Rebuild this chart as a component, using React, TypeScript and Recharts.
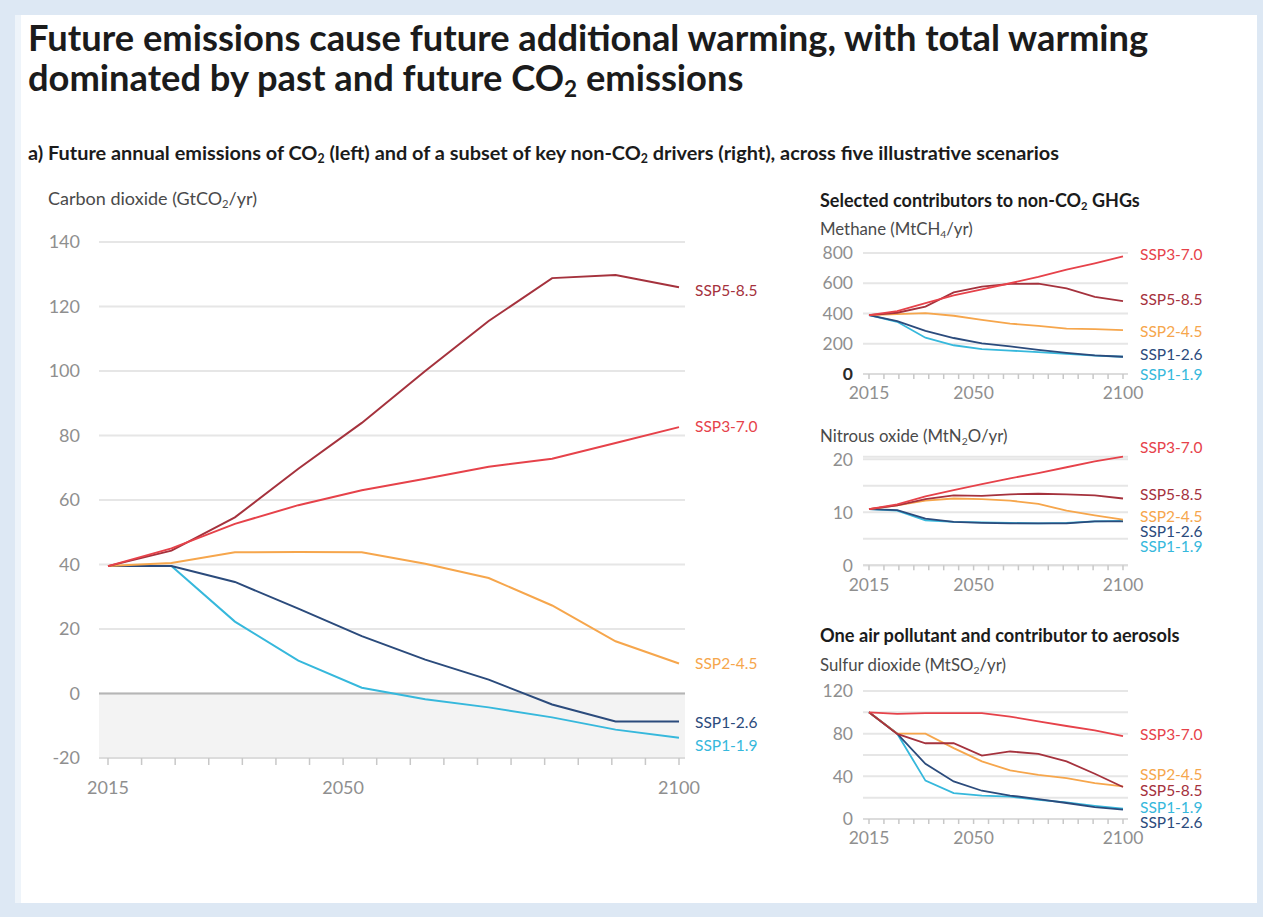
import React from 'react';
import { LineChart, Line, XAxis, YAxis, CartesianGrid, ReferenceLine, LabelList } from 'recharts';

const FONT = 'Lato, "Noto Sans", sans-serif';

// Data years (plotted as evenly spaced points, as in the source figure)
const YEARS = [2015, 2020, 2030, 2040, 2050, 2060, 2070, 2080, 2090, 2100];
const SCENARIOS = ['SSP1-1.9', 'SSP1-2.6', 'SSP2-4.5', 'SSP5-8.5', 'SSP3-7.0'];
const X_TICKS = [2015, 2020, 2025, 2030, 2035, 2040, 2045, 2050, 2055, 2060, 2065, 2070, 2075, 2080, 2085, 2090, 2095, 2100];
const X_LABELS = [2015, 2050, 2100];

// Carbon dioxide (GtCO2/yr)
const CO2_SSP119 = [39.5, 39.5, 22.3, 10.2, 1.8, -1.8, -4.3, -7.4, -11.2, -13.7];
const CO2_SSP126 = [39.5, 39.5, 34.6, 26.3, 17.8, 10.5, 4.3, -3.4, -8.7, -8.7];
const CO2_SSP245 = [39.5, 40.5, 43.8, 43.9, 43.8, 40.2, 35.8, 27.3, 16.2, 9.3];
const CO2_SSP370 = [39.5, 45.0, 52.6, 58.4, 63.0, 66.6, 70.3, 72.8, 77.7, 82.6];
const CO2_SSP585 = [39.5, 44.3, 54.6, 69.7, 83.9, 100.0, 115.5, 128.8, 129.8, 126.0];
const CO2_TICKS = [-20, 0, 20, 40, 60, 80, 100, 120, 140];

// Methane (MtCH4/yr)
const CH4_SSP119 = [389, 345, 240, 190, 165, 155, 145, 133, 122, 114];
const CH4_SSP126 = [389, 350, 285, 238, 203, 182, 160, 140, 123, 114];
const CH4_SSP245 = [389, 396, 402, 385, 358, 333, 318, 300, 297, 290];
const CH4_SSP370 = [389, 415, 468, 520, 560, 600, 642, 690, 732, 778];
const CH4_SSP585 = [389, 405, 446, 540, 578, 596, 598, 566, 510, 482];
const CH4_TICKS = [0, 200, 400, 600, 800];
const CH4_LABELS = [0, 200, 400, 600, 800];

// Nitrous oxide (MtN2O/yr)
const N2O_SSP119 = [10.6, 10.3, 8.5, 8.2, 8.1, 8.0, 7.9, 8.0, 8.3, 8.4];
const N2O_SSP126 = [10.6, 10.4, 8.8, 8.2, 8.0, 7.9, 7.9, 7.9, 8.3, 8.3];
const N2O_SSP245 = [10.6, 11.3, 12.2, 12.6, 12.5, 12.2, 11.6, 10.3, 9.4, 8.6];
const N2O_SSP370 = [10.6, 11.5, 13.0, 14.2, 15.3, 16.4, 17.4, 18.5, 19.6, 20.5];
const N2O_SSP585 = [10.6, 11.3, 12.5, 13.2, 13.1, 13.4, 13.5, 13.4, 13.2, 12.6];
const N2O_TICKS = [0, 5, 10, 15, 20];
const N2O_LABELS = [0, 10, 20];

// Sulfur dioxide (MtSO2/yr)
const SO2_SSP119 = [100, 80, 36, 24.3, 22, 21, 18, 15.5, 12.4, 9.6];
const SO2_SSP126 = [100, 80, 51.7, 35.2, 26.5, 22, 18.7, 15, 11.2, 8.7];
const SO2_SSP245 = [100, 80, 80, 66.4, 54, 45.5, 41.4, 38.3, 33.7, 30.5];
const SO2_SSP370 = [100, 98.5, 99.3, 99.3, 99.3, 96, 91.5, 87.2, 83, 77.7];
const SO2_SSP585 = [100, 79.8, 71, 71, 59.5, 63.3, 61, 54, 42.4, 30];
const SO2_TICKS = [0, 20, 40, 60, 80, 100, 120];
const SO2_LABELS = [0, 40, 80, 120];

const COLORS: Record<string, string> = {
  'SSP1-1.9': '#36b8dc',
  'SSP1-2.6': '#2b4b7c',
  'SSP2-4.5': '#f6a64c',
  'SSP3-7.0': '#e6424a',
  'SSP5-8.5': '#a5323d',
};

function buildRows(series: Record<string, number[]>) {
  return YEARS.map((yr, i) => {
    const row: Record<string, any> = { cat: String(yr), yr };
    Object.keys(series).forEach((k) => {
      row[k] = series[k][i];
    });
    return row;
  });
}

const CO2_ROWS = buildRows({ 'SSP1-1.9': CO2_SSP119, 'SSP1-2.6': CO2_SSP126, 'SSP2-4.5': CO2_SSP245, 'SSP3-7.0': CO2_SSP370, 'SSP5-8.5': CO2_SSP585 });
const CH4_ROWS = buildRows({ 'SSP1-1.9': CH4_SSP119, 'SSP1-2.6': CH4_SSP126, 'SSP2-4.5': CH4_SSP245, 'SSP3-7.0': CH4_SSP370, 'SSP5-8.5': CH4_SSP585 });
const N2O_ROWS = buildRows({ 'SSP1-1.9': N2O_SSP119, 'SSP1-2.6': N2O_SSP126, 'SSP2-4.5': N2O_SSP245, 'SSP3-7.0': N2O_SSP370, 'SSP5-8.5': N2O_SSP585 });
const SO2_ROWS = buildRows({ 'SSP1-1.9': SO2_SSP119, 'SSP1-2.6': SO2_SSP126, 'SSP2-4.5': SO2_SSP245, 'SSP3-7.0': SO2_SSP370, 'SSP5-8.5': SO2_SSP585 });

function makeEndLabel(name: string, color: string, dx: number, dy: number, fontSize: number) {
  const last = YEARS.length - 1;
  return (props: any) => {
    if (props.index !== last) return null;
    const x = props.x ?? props.viewBox?.x;
    const y = props.y ?? props.viewBox?.y;
    if (x == null || y == null) return null;
    return (
      <text x={x + dx} y={y + dy} fill={color} fontSize={fontSize} fontFamily={FONT} dominantBaseline="central">
        {name}
      </text>
    );
  };
}

function makeYTick(labels: number[], fontSize: number, darkZero = false) {
  return (props: any) => {
    const { x, y, payload } = props;
    if (!labels.includes(payload.value)) return <g />;
    const dark = darkZero && payload.value === 0;
    return (
      <text x={x} y={y} dy="0.355em" textAnchor="end" fill={dark ? '#2a2a2a' : '#8f8f8f'} fontSize={fontSize} fontWeight={dark ? 700 : 400} fontFamily={FONT}>
        {payload.value}
      </text>
    );
  };
}

const xTickFmt = (v: number) => (X_LABELS.includes(v) ? String(v) : '');

type PanelProps = {
  rows: any[];
  left: number;
  top: number;
  width: number;
  height: number;
  margin: { top: number; right: number; bottom: number; left: number };
  yDomain: [number, number];
  yTicks: number[];
  yLabels: number[];
  yWidth: number;
  yTickMargin: number;
  padL: number;
  padR: number;
  xTickSize: number;
  xTickMargin: number;
  xHeight: number;
  tickFont: number;
  labelFont: number;
  labelDx: number;
  labelDy: Record<string, number>;
  strokeWidth: number;
  bandFill?: string[];
  zeroLine?: boolean;
  darkZero?: boolean;
};

function Panel(p: PanelProps) {
  return (
    <div style={{ position: 'absolute', left: p.left, top: p.top, width: p.width, height: p.height }}>
      <LineChart width={p.width} height={p.height} data={p.rows} margin={p.margin}>
        <XAxis xAxisId="cat" dataKey="cat" type="category" scale="point" orientation="top" height={0} hide padding={{ left: p.padL, right: p.padR }} />
        <XAxis
          xAxisId="num"
          dataKey="yr"
          type="number"
          domain={[2015, 2100]}
          allowDataOverflow
          ticks={X_TICKS}
          interval={0}
          tickFormatter={xTickFmt}
          padding={{ left: p.padL, right: p.padR }}
          height={p.xHeight}
          tickSize={p.xTickSize}
          tickMargin={p.xTickMargin}
          stroke="#d9d9d9"
          tickLine={{ stroke: '#c8c8c8', strokeWidth: 1.5 }}
          axisLine={{ stroke: '#dcdcdc', strokeWidth: 2 }}
          tick={{ fill: '#8f8f8f', fontSize: p.tickFont, fontFamily: FONT }}
        />
        <YAxis
          domain={p.yDomain}
          ticks={p.yTicks}
          interval={0}
          width={p.yWidth}
          axisLine={false}
          tickLine={false}
          tickSize={0}
          tickMargin={p.yTickMargin}
          tick={makeYTick(p.yLabels, p.tickFont, p.darkZero)}
        />
        <CartesianGrid xAxisId="num" vertical={false} stroke="#e6e6e6" strokeWidth={2} horizontalFill={p.bandFill} fillOpacity={1} />
        {p.zeroLine ? <ReferenceLine xAxisId="num" y={0} stroke="#b5b5b5" strokeWidth={2} /> : null}
        {SCENARIOS.map((s) => (
          <Line
            key={s}
            xAxisId="cat"
            dataKey={s}
            type="linear"
            stroke={COLORS[s]}
            strokeWidth={p.strokeWidth}
            dot={false}
            activeDot={false}
            isAnimationActive={false}
          >
            <LabelList dataKey={s} content={makeEndLabel(s, COLORS[s], p.labelDx, p.labelDy[s] || 0, p.labelFont)} />
          </Line>
        ))}
      </LineChart>
    </div>
  );
}

const Sub = ({ children }: { children: React.ReactNode }) => (
  <sub style={{ fontSize: '0.62em', verticalAlign: '-0.28em', lineHeight: 0 }}>{children}</sub>
);

const txt = (left: number, top: number, fontSize: number, bold: boolean, color: string): React.CSSProperties => ({
  position: 'absolute',
  left,
  top,
  fontSize,
  fontWeight: bold ? 700 : 400,
  color,
  fontFamily: FONT,
  lineHeight: '20px',
  whiteSpace: 'nowrap',
});

// stripes between CO2 gridlines (top to bottom); the band between 0 and -20 is shaded
const CO2_BANDS = ['transparent', 'transparent', 'transparent', 'transparent', 'transparent', 'transparent', 'transparent', '#f3f3f3', 'transparent'];

export default function App() {
  return (
    <div style={{ position: 'absolute', left: 0, top: 0, width: 1263, height: 917, background: '#dde8f4', overflow: 'hidden' }}>
      <div style={{ position: 'absolute', left: 15, top: 15, width: 1242, height: 888, background: '#ffffff', borderLeft: '6px solid #eef4fa', boxSizing: 'border-box' }} />
      <div style={{ position: 'absolute', left: 28, top: 17, fontFamily: FONT, fontWeight: 700, fontSize: 36.3, lineHeight: '40px', color: '#1b1b1b', whiteSpace: 'nowrap' }}>
        <div>Future emissions cause future additional warming, with total warming</div>
        <div>
          dominated by past and future CO<Sub>2</Sub> emissions
        </div>
      </div>
      <div style={txt(28, 142, 19.9, true, '#1b1b1b')}>
        a) Future annual emissions of CO<Sub>2</Sub> (left) and of a subset of key non-CO<Sub>2</Sub> drivers (right), across five illustrative scenarios
      </div>
      <div style={txt(48, 188, 18, false, '#4a4a4a')}>
        Carbon dioxide (GtCO<Sub>2</Sub>/yr)
      </div>
      <div style={txt(820, 190, 18, true, '#1b1b1b')}>
        Selected contributors to non-CO<Sub>2</Sub> GHGs
      </div>
      <div style={txt(820, 219, 16.8, false, '#4a4a4a')}>
        Methane (MtCH<Sub>4</Sub>/yr)
      </div>
      <div style={txt(820, 426, 16.8, false, '#4a4a4a')}>
        Nitrous oxide (MtN<Sub>2</Sub>O/yr)
      </div>
      <div style={txt(820, 625, 18.2, true, '#1b1b1b')}>One air pollutant and contributor to aerosols</div>
      <div style={txt(820, 655, 16.8, false, '#4a4a4a')}>
        Sulfur dioxide (MtSO<Sub>2</Sub>/yr)
      </div>

      <Panel
        rows={CO2_ROWS}
        left={20}
        top={220}
        width={800}
        height={600}
        margin={{ top: 22, right: 135, bottom: 22, left: 19 }}
        yDomain={[-20, 140]}
        yTicks={CO2_TICKS}
        yLabels={CO2_TICKS}
        yWidth={60}
        yTickMargin={19}
        padL={9}
        padR={6}
        xTickSize={7}
        xTickMargin={16}
        xHeight={40}
        tickFont={18}
        labelFont={15.5}
        labelDx={16}
        labelDy={{ 'SSP5-8.5': 3, 'SSP3-7.0': -1, 'SSP2-4.5': -1, 'SSP1-2.6': 0, 'SSP1-1.9': 7 }}
        strokeWidth={2}
        bandFill={CO2_BANDS}
        zeroLine
      />
      <Panel
        rows={CH4_ROWS}
        left={800}
        top={223}
        width={460}
        height={186}
        margin={{ top: 30, right: 132, bottom: 5, left: 13 }}
        yDomain={[0, 800]}
        yTicks={CH4_TICKS}
        yLabels={CH4_LABELS}
        yWidth={50}
        yTickMargin={10}
        padL={6}
        padR={5}
        xTickSize={5}
        xTickMargin={8}
        xHeight={30}
        tickFont={17.5}
        labelFont={15.5}
        labelDx={17}
        labelDy={{ 'SSP3-7.0': -2, 'SSP5-8.5': -2, 'SSP2-4.5': 1, 'SSP1-2.6': -3, 'SSP1-1.9': 17 }}
        strokeWidth={1.8}
        darkZero
      />
      <Panel
        rows={N2O_ROWS}
        left={800}
        top={429}
        width={460}
        height={171.3}
        margin={{ top: 27.65, right: 132, bottom: 5, left: 13 }}
        yDomain={[0, 20.5]}
        yTicks={N2O_TICKS}
        yLabels={N2O_LABELS}
        yWidth={50}
        yTickMargin={10}
        padL={6}
        padR={5}
        xTickSize={5}
        xTickMargin={8}
        xHeight={30}
        tickFont={17.5}
        labelFont={15.5}
        labelDx={17}
        labelDy={{ 'SSP3-7.0': -10, 'SSP5-8.5': -5, 'SSP2-4.5': -4, 'SSP1-2.6': 10, 'SSP1-1.9': 25 }}
        strokeWidth={1.8}
      />
      <Panel
        rows={SO2_ROWS}
        left={800}
        top={661}
        width={460}
        height={193}
        margin={{ top: 30, right: 132, bottom: 5, left: 13 }}
        yDomain={[0, 120]}
        yTicks={SO2_TICKS}
        yLabels={SO2_LABELS}
        yWidth={50}
        yTickMargin={10}
        padL={6}
        padR={5}
        xTickSize={5}
        xTickMargin={8}
        xHeight={30}
        tickFont={17.5}
        labelFont={15.5}
        labelDx={17}
        labelDy={{ 'SSP3-7.0': -2, 'SSP2-4.5': -12, 'SSP5-8.5': 3, 'SSP1-1.9': -2, 'SSP1-2.6': 12 }}
        strokeWidth={1.8}
      />
    </div>
  );
}
